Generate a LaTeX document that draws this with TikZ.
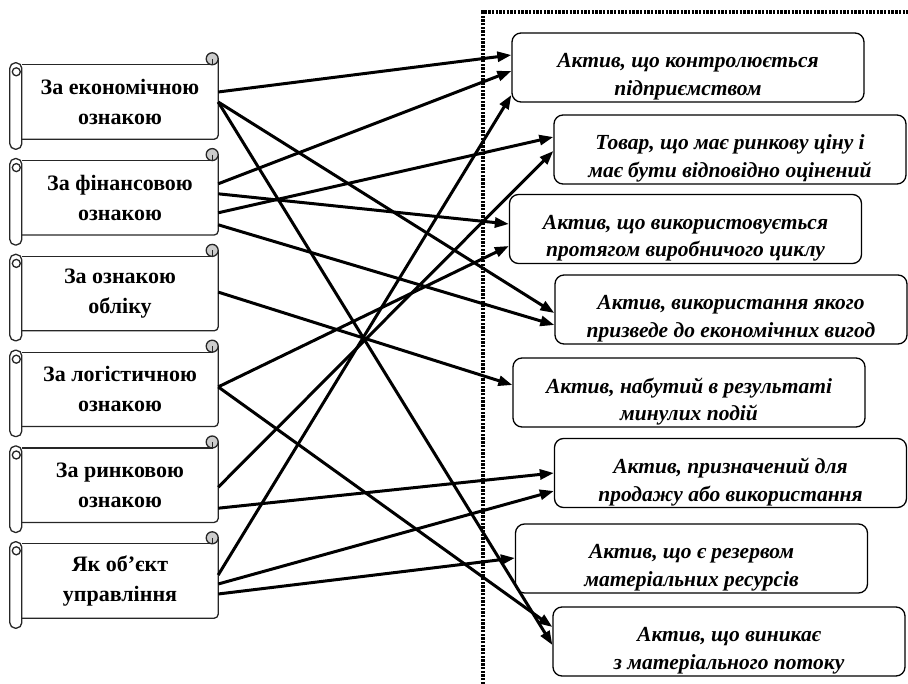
\documentclass[tikz,border=0pt]{standalone}
\usepackage{fontspec}
\setmainfont{Liberation Serif}
\usetikzlibrary{arrows.meta,calc}
\begin{document}
\begin{tikzpicture}[x=1pt,y=-1pt,
  scrollbox/.style={minimum width=196pt,minimum height=74pt,inner sep=0pt,align=center,font=\fontsize{22}{30}\selectfont\bfseries},
  goalbox/.style={draw,line width=1.3pt,rounded corners=9pt,minimum width=352pt,minimum height=69pt,inner sep=0pt},
  goaltext/.style={align=center,inner sep=0pt,font=\fontsize{21.5}{27.5}\selectfont\bfseries\itshape},
  scrollline/.style={line width=1.3pt,draw=black!85},
  arr/.style={line width=3pt,-{Triangle[length=14pt,width=10pt]}},
  divider/.style={line width=3.2pt,dash pattern=on 2.4pt off 1.3pt},
]
\useasboundingbox (0,0) rectangle (908,684);

% dotted divider
\coordinate (dtop) at (483,12);
\coordinate (dright) at (908,12);
\coordinate (dbot) at (483,684);
\draw[divider] (dbot) -- (dtop) -- (dright);

% left scrolls
\node[scrollbox] (s1) at (120,102)   {За економічною\\ознакою};
\node[scrollbox] (s2) at (120,197.8) {За фінансовою\\ознакою};
\node[scrollbox] (s3) at (120,293.6) {За ознакою\\обліку};
\node[scrollbox] (s4) at (120,389.4) {За логістичною\\ознакою};
\node[scrollbox] (s5) at (120,485.2) {За ринковою\\ознакою};
\node[scrollbox] (s6) at (120,581)   {Як об’єкт\\управління};

\foreach \n in {s1,s2,s3,s4,s5,s6}{
  \draw[scrollline,fill=white,rounded corners=5.5pt] ($(\n.north west)+(-12,-2)$) rectangle ($(\n.south west)+(0,10)$);
  \draw[scrollline] ($(\n.north west)+(-5.5,7)$) circle (4pt);
  \draw[scrollline] (\n.north west) -- ($(\n.north east)+(-12,0)$);
  \draw[scrollline,rounded corners=4pt] ($(\n.north east)+(0,-6)$) -- (\n.south east) -- (\n.south west);
  \draw[scrollline,fill=gray!40] ($(\n.north east)+(-6,-6)$) circle (6pt);
  \draw[scrollline] ($(\n.north east)+(-6,-6)$) -- ($(\n.north east)+(-6,0)$) -- ($(\n.north east)+(-12,0)$);
}

% right boxes
\node[goalbox] (r1) at (688,67.5)  {};
\node[goalbox] (r2) at (730,149.5) {};
\node[goalbox] (r3) at (685.5,229) {};
\node[goalbox] (r4) at (731,309.5) {};
\node[goalbox] (r5) at (689,392.5) {};
\node[goalbox] (r6) at (730.5,473) {};
\node[goalbox] (r7) at (691.5,558.5) {};
\node[goalbox] (r8) at (729,641.5) {};

\node[goaltext] (t1) at ($(r1)+(0,9)$) {Актив, що контролюється\\підприємством};
\node[goaltext] (t2) at ($(r2)+(0,9)$) {Товар, що має ринкову ціну і\\має бути відповідно оцінений};
\node[goaltext] (t3) at ($(r3)+(0,9)$) {Актив, що використовується\\протягом виробничого циклу};
\node[goaltext] (t4) at ($(r4)+(0,9)$) {Актив, використання якого\\призведе до економічних вигод};
\node[goaltext] (t5) at ($(r5)+(0,9)$) {Актив, набутий в результаті\\минулих подій};
\node[goaltext] (t6) at ($(r6)+(0,9)$) {Актив, призначений для\\продажу або використання};
\node[goaltext] (t7) at ($(r7)+(0,9)$) {Актив, що є резервом\\матеріальних ресурсів};
\node[goaltext] (t8) at ($(r8)+(0,9)$) {Актив, що виникає\\з матеріального потоку};

% connectors
\draw[arr] ($(s1.east)+(0,-10)$) -- ($(r1.west)+(0,-12.5)$);
\draw[arr] (s1.east) -- ($(r4.west)+(0,3.5)$);
\draw[arr] (s1.east) -- ($(r8.west)+(0,3.5)$);

\draw[arr] ($(s2.east)+(0,-14)$) -- ($(r1.west)+(0,3.5)$);
\draw[arr] ($(s2.east)+(0,-4)$) -- ($(r3.west)+(0,-5)$);
\draw[arr] ($(s2.east)+(0,15)$) -- ($(r2.west)+(0,-12.5)$);
\draw[arr] ($(s2.east)+(0,27)$) -- ($(r4.west)+(0,15.5)$);

\draw[arr] ($(s3.east)+(0,-1.5)$) -- ($(r5.west)+(0,-7.5)$);

\draw[arr] ($(s4.east)+(0,-2.5)$) -- ($(r3.west)+(0,17)$);
\draw[arr] ($(s4.east)+(0,-2.5)$) -- ($(r8.west)+(0,-14.5)$);

\draw[arr] ($(s5.east)+(0,2)$) -- ($(r2.west)+(0,1.5)$);
\draw[arr] ($(s5.east)+(0,23)$) -- (r6.west);

\draw[arr] ($(s6.east)+(0,-6)$) -- ($(r1.west)+(0,27.5)$);
\draw[arr] ($(s6.east)+(0,3)$) -- ($(r6.west)+(0,18)$);
\draw[arr] ($(s6.east)+(0,13)$) -- ($(r7.west)+(0,-0.5)$);
\end{tikzpicture}
\end{document}
